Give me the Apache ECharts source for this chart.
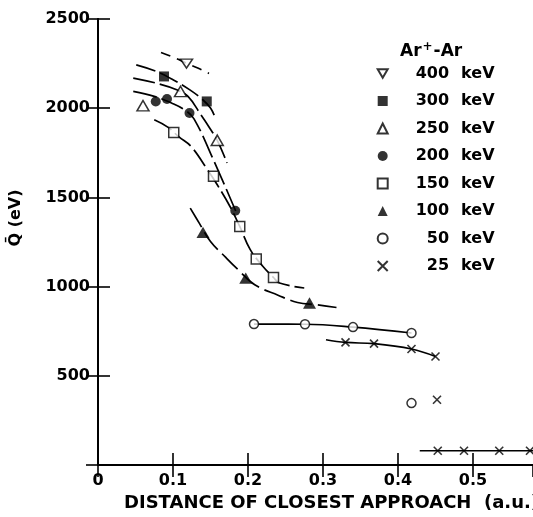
<!DOCTYPE html>
<html><head><meta charset="utf-8">
<script src="https://cdn.jsdelivr.net/npm/echarts@6/dist/echarts.min.js"></script>
<style>html,body{margin:0;padding:0;background:#fff}#c{width:533px;height:517px}</style>
</head><body><div id="c"></div>
<script>
// ---- data ----
const xTicks = [0, 0.1, 0.2, 0.3, 0.4, 0.5];
const yTicks = [500, 1000, 1500, 2000, 2500];
const seriesNames = ['400 keV', '300 keV', '250 keV', '200 keV', '150 keV', '100 keV', '50 keV', '25 keV'];

const p400 = [[0.118, 2250]];
const p300 = [[0.088, 2178], [0.145, 2038]];
const p250 = [[0.060, 2014], [0.110, 2094], [0.159, 1820]];
const p200 = [[0.077, 2038], [0.092, 2052], [0.122, 1973], [0.183, 1425]];
const p150 = [[0.101, 1864], [0.154, 1618], [0.189, 1337], [0.211, 1155], [0.234, 1051]];
const p100 = [[0.140, 1304], [0.197, 1048], [0.282, 908]];
const p50  = [[0.208, 790], [0.276, 789], [0.340, 773], [0.418, 740], [0.418, 347]];
const p25  = [[0.330, 687], [0.368, 680], [0.418, 650], [0.450, 608], [0.452, 366],
              [0.453, 80], [0.488, 80], [0.535, 80], [0.576, 80]];

// hand-drawn fit curves
const c400 = [[0.084, 2312], [0.105, 2278], [0.118, 2252], [0.133, 2225], [0.148, 2195]];
const c300 = [[0.051, 2243], [0.078, 2206], [0.100, 2160], [0.122, 2104], [0.139, 2050], [0.150, 2001], [0.157, 1940]];
const c250 = [[0.047, 2169], [0.078, 2140], [0.104, 2105], [0.120, 2066], [0.137, 1964], [0.148, 1895], [0.159, 1820], [0.172, 1693]];
const c200 = [[0.047, 2094], [0.075, 2066], [0.098, 2029], [0.115, 1992], [0.128, 1940], [0.155, 1700], [0.186, 1400]];
const c150 = [[0.075, 1935], [0.093, 1894], [0.108, 1839], [0.124, 1786], [0.146, 1655], [0.159, 1571], [0.176, 1449],
              [0.189, 1337], [0.203, 1207], [0.220, 1113], [0.234, 1051], [0.242, 1020], [0.275, 992]];
const c100 = [[0.123, 1440], [0.135, 1356], [0.150, 1253], [0.170, 1165], [0.187, 1094], [0.209, 1010], [0.240, 952],
              [0.266, 911], [0.292, 898], [0.318, 883]];
const c50  = [[0.208, 790], [0.276, 789], [0.340, 773], [0.418, 740]];
const c25  = [[0.304, 702], [0.330, 687], [0.368, 680], [0.418, 650], [0.450, 608]];
const c25b = [[0.429, 80], [0.453, 80], [0.488, 80], [0.535, 80], [0.58, 80]];

// ---- chart ----
const F = 'DejaVu Sans';
const W = 'bold';
const DOWN = 'path://M0,0L12,0L6,10.4Z';
const CROSS = 'path://M0,0L10,10M10,0L0,10';
const hollow = {color: '#fff', borderColor: '#000', borderWidth: 1.5};
const filled = {color: '#000', borderColor: '#000', borderWidth: 0};

function curve(name, data, dash) {
  return {type: 'line', name: name, data: data, smooth: 0.4, symbol: 'none', silent: true,
    lineStyle: {color: '#000', width: 1.7, type: dash}, z: 2};
}
function pts(name, data, symbol, size, style, keep) {
  return {type: 'scatter', name: name, data: data, symbol: symbol, symbolSize: size,
    symbolKeepAspect: !!keep, itemStyle: style, z: 5, silent: true};
}

const tickLab = {fontFamily: F, fontSize: 16, fontWeight: W, color: '#000'};
const axLine = {show: true, lineStyle: {color: '#000', width: 2}};
const axTick = {show: true, inside: true, length: 12, lineStyle: {color: '#000', width: 1.6}};

const option = {
  animation: false,
  backgroundColor: '#fff',
  grid: {left: 96, right: -4, top: 19, bottom: 52},
  title: [
    {text: '{a|Ar}{s|+}{a|-Ar}', left: 400, top: 41, padding: 0,
     textStyle: {fontWeight: W,
       rich: {a: {fontFamily: F, fontSize: 17, fontWeight: W, color: '#000', lineHeight: 19},
              s: {fontFamily: F, fontSize: 12, fontWeight: W, color: '#000', padding: [0, 1, 10, 1]}}}},
    {text: 'DISTANCE OF CLOSEST APPROACH  (a.u.)', left: 124, top: 494, padding: 0,
     textStyle: {fontFamily: F, fontSize: 18, fontWeight: W, color: '#000'}}
  ],
  legend: {
    orient: 'vertical', left: 376.7, top: 65.5, padding: 0, itemWidth: 10, itemHeight: 10, itemGap: 11.5,
    data: seriesNames, selectedMode: false,
    formatter: n => { const s = n.split(' '); const v = s[0].length < 3 ? '\u2007' + s[0] : s[0]; return '{v|' + v + '}{k|' + s[1] + '}'; },
    textStyle: {fontFamily: F, fontSize: 16, fontWeight: W, color: '#000',
      rich: {v: {fontFamily: F, fontSize: 16, fontWeight: W, lineHeight: 16, color: '#000', padding: [0, 0, 0, 23]},
             k: {fontFamily: F, fontSize: 16, fontWeight: W, lineHeight: 16, color: '#000', padding: [0, 0, 0, 12]}}}
  },
  xAxis: [
    {type: 'value', min: 0, max: 0.58, interval: 0.1, position: 'bottom',
     axisLine: axLine, axisTick: axTick, splitLine: {show: false},
     axisLabel: {...tickLab, margin: 8, showMaxLabel: false,
       formatter: v => { const r = Math.round(v * 10) / 10; return (Math.abs(v - r) < 1e-9 && xTicks.includes(r)) ? (r === 0 ? '0' : r.toFixed(1)) : ''; }}},
    {type: 'value', min: 0, max: 0.58, interval: 0.1, position: 'top',
     axisLine: axLine, axisTick: axTick, splitLine: {show: false}, axisLabel: {show: false}}
  ],
  yAxis: [
    {type: 'value', min: 0, max: 2500, interval: 500, position: 'left',
     name: 'Q\u0304 (eV)', nameLocation: 'middle', nameRotate: 90, nameGap: 74,
     nameTextStyle: {fontFamily: F, fontSize: 16, fontWeight: W, color: '#000', padding: [0, 0, 0, 48]},
     axisLine: axLine, axisTick: axTick, splitLine: {show: false},
     axisLabel: {...tickLab, margin: 8, formatter: v => yTicks.includes(v) ? String(v) : ''}},
    {type: 'value', min: 0, max: 2500, interval: 500, position: 'right',
     axisLine: axLine, axisTick: axTick, splitLine: {show: false}, axisLabel: {show: false}}
  ],
  series: [
    curve('c400', c400, [10, 7]),
    curve('c300', c300, [20, 5]),
    curve('c250', c250, [22, 5]),
    curve('c200', c200, [24, 5]),
    curve('c150', c150, [20, 5]),
    curve('c100', c100, [22, 6]),
    curve('c50', c50, 'solid'),
    curve('c25', c25, 'solid'),
    curve('c25b', c25b, 'solid'),
    pts('400 keV', p400, DOWN, [12, 10.4], hollow, true),
    pts('300 keV', p300, 'rect', 10, filled),
    pts('250 keV', p250, 'triangle', [12, 10.4], hollow),
    pts('200 keV', p200, 'circle', 10, filled),
    pts('150 keV', p150, 'rect', 10, hollow),
    pts('100 keV', p100, 'triangle', [13, 11.3], filled),
    pts('50 keV', p50, 'circle', 9, hollow),
    pts('25 keV', p25, CROSS, 8, {color: '#fff', borderColor: '#000', borderWidth: 1.6})
  ]
};
echarts.init(document.getElementById('c')).setOption(option);
</script>
</body></html>
